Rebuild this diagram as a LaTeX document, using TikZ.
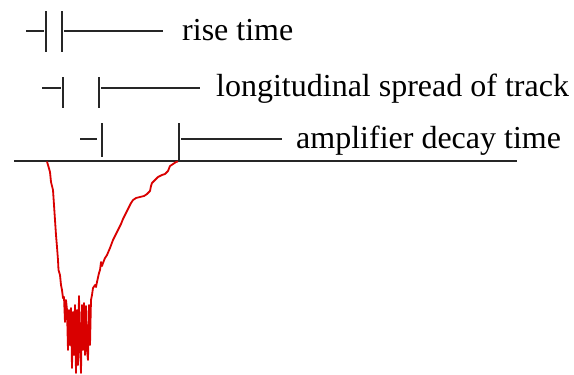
\documentclass[tikz,border=0pt]{standalone}
\usepackage{fontspec}
\setmainfont{Liberation Serif}
\begin{document}
\begin{tikzpicture}[x=1pt,y=-1pt,
  lbl/.style={anchor=base west,inner sep=0pt,font=\fontsize{32}{32}\selectfont},
  blk/.style={line width=2.1pt,black!85},
  sig/.style={line width=1.8pt,red!85!black,line join=round}]
\useasboundingbox (0,0) rectangle (574,375);
% labels
\node[lbl] (t1) at (182,40) {rise time};
\node[lbl] (t2) at (216,96) {longitudinal spread of track};
\node[lbl] (t3) at (296,148) {amplifier decay time};
% row 1
\coordinate (d1a) at (26,31); \coordinate (d1b) at (44,31);
\coordinate (b1at) at (46,11); \coordinate (b1ab) at (46,52);
\coordinate (b1bt) at (62,11); \coordinate (b1bb) at (62,52);
\coordinate (l1a) at (64,31); \coordinate (l1b) at (163,31);
\draw[blk] (d1a) -- (d1b);
\draw[blk] (b1at) -- (b1ab);
\draw[blk] (b1bt) -- (b1bb);
\draw[blk] (l1a) -- (l1b);
% row 2
\coordinate (d2a) at (42,88); \coordinate (d2b) at (61,88);
\coordinate (b2at) at (63,77); \coordinate (b2ab) at (63,108);
\coordinate (b2bt) at (99,77); \coordinate (b2bb) at (99,108);
\coordinate (l2a) at (101,88); \coordinate (l2b) at (200,88);
\draw[blk] (d2a) -- (d2b);
\draw[blk] (b2at) -- (b2ab);
\draw[blk] (b2bt) -- (b2bb);
\draw[blk] (l2a) -- (l2b);
% row 3
\coordinate (d3a) at (80,139); \coordinate (d3b) at (97,139);
\coordinate (b3at) at (102,123); \coordinate (b3ab) at (102,157);
\coordinate (b3bt) at (179,123); \coordinate (b3bb) at (179,160);
\coordinate (l3a) at (181,139); \coordinate (l3b) at (282,139);
\draw[blk] (d3a) -- (d3b);
\draw[blk] (b3at) -- (b3ab);
\draw[blk] (b3bt) -- (b3bb);
\draw[blk] (l3a) -- (l3b);
% baseline
\coordinate (base0) at (14,161); \coordinate (base1) at (517,161);
\draw[blk] (base0) -- (base1);
% signal
\draw[sig] (47,161.5) -- (48,165) -- (50,172) -- (51,182) -- (53,190) -- (54,205) -- (55,220) -- (56,235) -- (57,247) -- (58,260) -- (58.5,270) -- (60,275) -- (61,285) -- (62,290) -- (63,298) -- (64,297) -- (65,322) -- (66,300) -- (67,310) -- (68,350) -- (69,310) -- (70,345) -- (71,308) -- (72,368) -- (73,312) -- (74,355) -- (75,305) -- (76,373) -- (77,310) -- (78,365) -- (79,296) -- (80,340) -- (81,373) -- (82,305) -- (83,350) -- (84,303) -- (85,355) -- (86,306) -- (87,350) -- (88,360) -- (89,305) -- (90,345) -- (91,300) -- (92,295) -- (93,288) -- (95,285) -- (96,287) -- (97,282) -- (99,273) -- (100,270) -- (101,262) -- (102,266) -- (103,263) -- (105,258) -- (107,255) -- (110,248) -- (113,240) -- (116,234) -- (118,230) -- (121,224) -- (123,219) -- (126,213) -- (128,209) -- (131,203) -- (133,200) -- (136,198) -- (140,197) -- (144,196) -- (147,194) -- (150,191) -- (151,186) -- (152,183) -- (155,180) -- (158,177) -- (162,175) -- (165,174) -- (168,171) -- (170,166) -- (173,164) -- (176,162) -- (178,161.5);
\end{tikzpicture}
\end{document}
